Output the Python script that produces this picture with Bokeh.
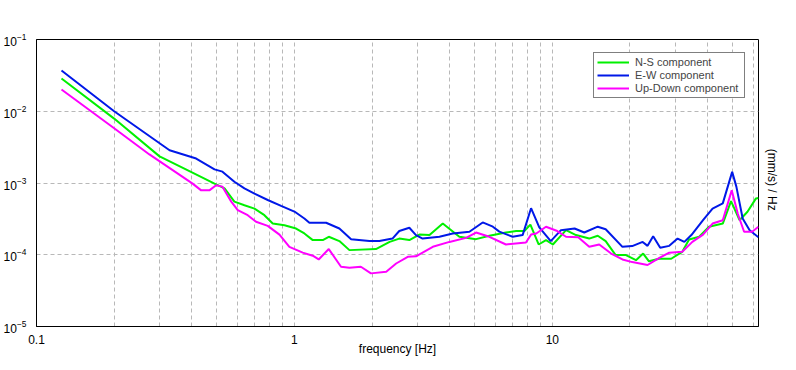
from bokeh.plotting import figure
from bokeh.models import (FixedTicker, CustomJSTickFormatter, LogTickFormatter, LogAxis,
                          Legend, LegendItem, Range1d)
from bokeh.embed import file_html
from bokeh.resources import INLINE

# ---- data ----
ns_freq = [0.125, 0.2, 0.3, 0.397, 0.49, 0.536, 0.585, 0.64, 0.70, 0.765, 0.824, 0.915, 1.015,
           1.093, 1.178, 1.288, 1.359, 1.494, 1.634, 2.07, 2.34, 2.55, 2.79, 3.05, 3.34, 3.76,
           4.36, 5.06, 5.7, 6.61, 7.24, 7.79, 8.22, 8.85, 9.45, 10.05, 11.3, 12.35, 13.9, 15.0,
           16.1, 17.6, 19.3, 21.1, 22.5, 23.7, 25.9, 28.9, 31.9, 33.9, 37.1, 40.5, 45.8, 49.3,
           53.2, 57.1, 61.6, 63]
ns_vals = [0.0286, 0.0079, 0.00235, 0.00143, 9.8e-4, 8.4e-4, 5.5e-4, 4.9e-4, 4.4e-4, 3.56e-4,
           2.72e-4, 2.58e-4, 2.32e-4, 1.98e-4, 1.6e-4, 1.6e-4, 1.78e-4, 1.55e-4, 1.16e-4, 1.2e-4,
           1.51e-4, 1.68e-4, 1.6e-4, 1.91e-4, 1.88e-4, 2.72e-4, 1.78e-4, 1.65e-4, 1.84e-4,
           2.04e-4, 2.14e-4, 2.14e-4, 2.63e-4, 1.39e-4, 1.6e-4, 1.39e-4, 2.2e-4, 1.88e-4,
           1.68e-4, 1.84e-4, 1.55e-4, 9.9e-5, 9.9e-5, 8.4e-5, 1.04e-4, 8.1e-5, 8.8e-5, 8.8e-5,
           1.1e-4, 1.63e-4, 1.78e-4, 2.46e-4, 2.72e-4, 5.6e-4, 3.03e-4, 3.97e-4, 6.1e-4, 6.2e-4]

ew_freq = [0.125, 0.2, 0.328, 0.416, 0.49, 0.526, 0.585, 0.64, 0.70, 0.788, 0.888, 1.0, 1.093,
           1.143, 1.327, 1.494, 1.659, 1.953, 2.135, 2.40, 2.55, 2.79, 2.96, 3.14, 3.65, 4.11,
           4.77, 5.37, 5.88, 6.23, 7.02, 7.67, 8.27, 8.9, 9.86, 10.8, 12.2, 13.3, 15.0, 16.1,
           18.7, 20.4, 22.4, 23.4, 24.6, 26.2, 28.4, 30.6, 32.5, 34.6, 38.4, 41.8, 45.8, 49.8,
           51.7, 54.7, 58.2, 63]
ew_vals = [0.037, 0.01, 0.00286, 0.00219, 0.00155, 0.00144, 0.00104, 8.4e-4, 7.1e-4, 5.8e-4,
           4.8e-4, 4.0e-4, 3.2e-4, 2.79e-4, 2.79e-4, 2.32e-4, 1.65e-4, 1.55e-4, 1.55e-4, 1.68e-4,
           2.14e-4, 2.38e-4, 1.88e-4, 1.68e-4, 1.78e-4, 1.98e-4, 2.09e-4, 2.82e-4, 2.46e-4,
           2.1e-4, 1.78e-4, 1.88e-4, 4.45e-4, 2.4e-4, 1.55e-4, 2.2e-4, 2.32e-4, 2.04e-4, 2.46e-4,
           2.27e-4, 1.29e-4, 1.32e-4, 1.51e-4, 1.33e-4, 1.81e-4, 1.25e-4, 1.33e-4, 1.68e-4,
           1.51e-4, 1.88e-4, 3.03e-4, 4.4e-4, 5.2e-4, 1.43e-3, 8.9e-4, 3.2e-4, 2.2e-4, 1.75e-4]

ud_freq = [0.125, 0.2, 0.274, 0.403, 0.435, 0.468, 0.497, 0.526, 0.569, 0.603, 0.659, 0.71,
           0.788, 0.875, 0.956, 1.077, 1.178, 1.242, 1.359, 1.516, 1.634, 1.81, 1.98, 2.27, 2.48,
           2.75, 2.96, 3.44, 3.99, 4.63, 5.06, 5.7, 6.61, 7.9, 8.27, 8.66, 9.45, 10.45, 11.3,
           12.6, 13.9, 15.2, 16.9, 18.7, 20.4, 23.4, 25.9, 28.4, 31.9, 34.9, 38.4, 41.8, 45.8,
           49.6, 52.4, 55.4, 59.5, 63]
ud_vals = [0.0201, 0.0058, 0.0025, 9.8e-4, 7.9e-4, 7.9e-4, 9.3e-4, 8.9e-4, 5.5e-4, 4.2e-4,
           3.56e-4, 2.88e-4, 2.53e-4, 1.91e-4, 1.29e-4, 1.07e-4, 9.7e-5, 8.6e-5, 1.2e-4, 6.8e-5,
           6.6e-5, 6.8e-5, 5.5e-5, 5.8e-5, 7.55e-5, 9.35e-5, 9.5e-5, 1.29e-4, 1.51e-4, 1.72e-4,
           2.04e-4, 1.78e-4, 1.39e-4, 1.48e-4, 1.91e-4, 1.98e-4, 2.46e-4, 2.14e-4, 1.78e-4,
           1.75e-4, 1.29e-4, 1.39e-4, 1.04e-4, 8.6e-5, 7.9e-5, 7.2e-5, 9.0e-5, 1.07e-4, 1.1e-4,
           1.51e-4, 1.91e-4, 2.72e-4, 3.03e-4, 7.9e-4, 3.7e-4, 2.09e-4, 2.09e-4, 2.46e-4]

x_major = [0.1, 1, 10]
x_minor = [m * d for d in (0.1, 1, 10) for m in range(2, 10)]
y_major = [1e-5, 1e-4, 1e-3, 1e-2, 1e-1]

series_names = ["N-S component", "E-W component", "Up-Down component"]
series_colors = ["#00f000", "#0018e8", "#ff00ff"]

FONT = "Liberation Sans"

p = figure(frame_width=722, frame_height=287, x_axis_type="log", y_axis_type="log",
           x_range=Range1d(0.1, 63), y_range=Range1d(1e-5, 1e-1),
           output_backend="svg", toolbar_location=None,
           min_border_left=4, min_border_right=4, min_border_top=39, min_border_bottom=4)
p.background_fill_color = "white"
p.border_fill_color = "white"
p.outline_line_color = "black"
p.outline_line_width = 1

# axes
xa = p.xaxis[0]
xa.ticker = FixedTicker(ticks=x_major, minor_ticks=x_minor)
xa.formatter = CustomJSTickFormatter(code="return tick.toString();")
xa.axis_label = "frequency [Hz]"
ya = p.yaxis[0]
ya.ticker = FixedTicker(ticks=y_major, minor_ticks=[])
ya.formatter = LogTickFormatter()
for ax in (xa, ya):
    ax.major_tick_line_color = None
    ax.minor_tick_line_color = None
    ax.axis_line_color = "black"
    ax.major_label_text_font = FONT
    ax.major_label_text_font_size = "12px"
    ax.major_label_text_color = "black"
    ax.axis_label_text_font = FONT
    ax.axis_label_text_font_size = "12px"
    ax.axis_label_text_font_style = "normal"
    ax.axis_label_text_color = "black"
    ax.major_label_standoff = 4
xa.major_label_standoff = 2
xa.axis_label_standoff = -5

ra = LogAxis(axis_label="(mm/s)  /  Hz", ticker=FixedTicker(ticks=[]),
             major_tick_line_color=None, minor_tick_line_color=None, axis_line_color=None,
             axis_label_text_font=FONT, axis_label_text_font_size="12px",
             axis_label_text_font_style="normal", axis_label_text_color="black",
             axis_label_standoff=6)
p.add_layout(ra, "right")

# grids
p.xgrid.ticker = xa.ticker
p.ygrid.ticker = ya.ticker
for g in (p.xgrid[0], p.ygrid[0]):
    g.grid_line_color = "#b8b8b8"
    g.grid_line_dash = "4 3"
    g.grid_line_width = 1
p.xgrid[0].minor_grid_line_color = "#b8b8b8"
p.xgrid[0].minor_grid_line_dash = "4 3"

# lines
renderers = []
for fx, vy, col in ((ns_freq, ns_vals, series_colors[0]),
                    (ew_freq, ew_vals, series_colors[1]),
                    (ud_freq, ud_vals, series_colors[2])):
    r = p.line(fx, vy, line_color=col, line_width=2)
    renderers.append(r)

legend = Legend(items=[LegendItem(label=n, renderers=[r]) for n, r in zip(series_names, renderers)],
                location="top_right", margin=13, padding=3, spacing=1,
                glyph_width=32, glyph_height=12, label_height=12, label_width=106,
                label_standoff=6,
                label_text_font=FONT, label_text_font_size="11px",
                border_line_color="black", border_line_width=1,
                background_fill_color="white", background_fill_alpha=1.0)
p.add_layout(legend)

open("out.html", "w").write(file_html(p, INLINE))
